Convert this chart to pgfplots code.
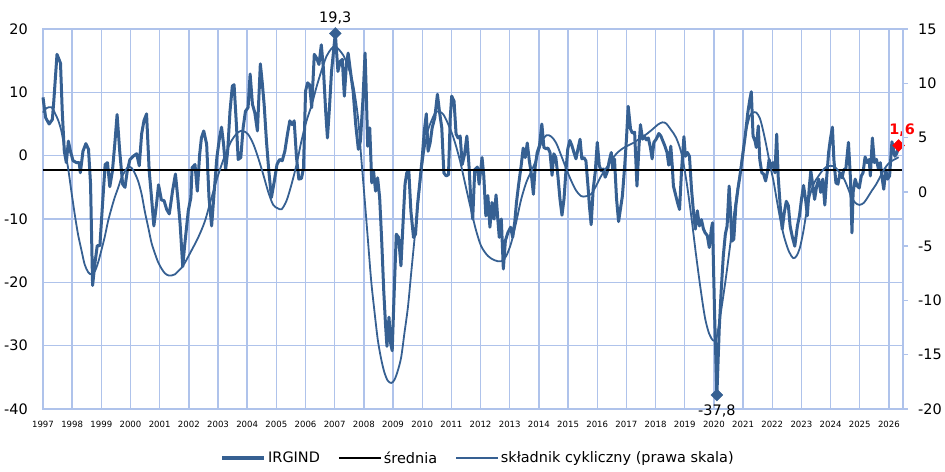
\documentclass[border=0pt]{standalone}
\usepackage{pgfplots}
\pgfplotsset{compat=1.18}
\usepackage{fontspec}
\setmainfont{DejaVu Sans}
\definecolor{irg}{RGB}{54,96,146}
\definecolor{gridc}{RGB}{175,195,235}
\begin{document}
\begin{tikzpicture}
\useasboundingbox (-43bp,-63bp) rectangle (902bp,409bp);
\begin{axis}[
  scale only axis, width=860bp, height=380bp,
  xmin=1997, xmax=2026.48, ymin=-40, ymax=20,
  clip=false,
  axis line style={draw=gridc, line width=1.4bp},
  xtick={1997,...,2026}, ytick={-40,-30,...,20},
  xmajorgrids=true, ymajorgrids=true,
  major grid style={draw=gridc, line width=1.4bp},
  major tick length=0bp,
  /pgf/number format/1000 sep={},
  /pgf/number format/assume math mode=true,
  xticklabel style={font=\fontsize{8.6}{9}\selectfont, anchor=north, inner sep=0pt, yshift=-12bp},
  yticklabel style={font=\fontsize{14.5}{15}\selectfont, anchor=east, inner sep=0pt, xshift=-15bp},
]
\addplot[gridc, line width=1.4bp, mark=none, forget plot] coordinates {(1997,20) (2026.48,20)};
\addplot[gridc, line width=1.4bp, mark=none, forget plot] coordinates {(1997,10) (2026.48,10)};
\addplot[gridc, line width=1.4bp, mark=none, forget plot] coordinates {(1997,0) (2026.48,0)};
\addplot[gridc, line width=1.4bp, mark=none, forget plot] coordinates {(1997,-10) (2026.48,-10)};
\addplot[gridc, line width=1.4bp, mark=none, forget plot] coordinates {(1997,-20) (2026.48,-20)};
\addplot[gridc, line width=1.4bp, mark=none, forget plot] coordinates {(1997,-30) (2026.48,-30)};
\addplot[gridc, line width=1.4bp, mark=none, forget plot] coordinates {(1997,-40) (2026.48,-40)};
\addplot[gridc, line width=1.4bp, mark=none, forget plot] coordinates {(2026.48,-40) (2026.48,20)};
\addplot[irg, line width=3bp, line join=round, mark=none] coordinates {
(1997.00,9.2)(1997.09,6.0)(1997.21,5.0)(1997.32,5.7)(1997.37,8.6)(1997.48,16.0)(1997.60,14.6)(1997.66,7.0)(1997.73,0.7)(1997.80,-1.1)(1997.87,2.3)(1997.94,0.7)(1998.03,-0.8)(1998.15,-1.1)(1998.24,-1.1)(1998.28,-2.7)(1998.37,0.7)(1998.47,1.9)(1998.56,1.0)(1998.63,-4.5)(1998.70,-20.5)(1998.78,-17.0)(1998.86,-14.2)(1998.95,-14.2)(1999.04,-7.7)(1999.13,-1.4)(1999.21,-1.1)(1999.29,-4.9)(1999.38,-2.4)(1999.46,1.8)(1999.54,6.5)(1999.63,0.7)(1999.73,-4.5)(1999.81,-5.0)(1999.89,-2.4)(1999.98,-0.6)(2000.09,-0.1)(2000.21,0.3)(2000.30,-1.6)(2000.38,3.4)(2000.46,5.5)(2000.55,6.6)(2000.64,-2.4)(2000.72,-6.6)(2000.80,-11.1)(2000.89,-7.7)(2000.96,-4.6)(2001.06,-7.0)(2001.15,-7.1)(2001.24,-8.5)(2001.33,-9.2)(2001.44,-5.6)(2001.54,-2.9)(2001.63,-7.1)(2001.70,-10.8)(2001.79,-17.5)(2001.86,-14.0)(2001.98,-8.7)(2002.07,-6.6)(2002.11,-1.9)(2002.21,-1.4)(2002.29,-5.6)(2002.37,0.2)(2002.43,2.8)(2002.51,3.9)(2002.61,1.8)(2002.69,-6.6)(2002.78,-11.1)(2002.87,-5.6)(2002.96,-0.3)(2003.05,2.8)(2003.12,4.5)(2003.19,1.8)(2003.26,-2.2)(2003.33,0.7)(2003.41,7.0)(2003.49,11.0)(2003.55,11.2)(2003.63,4.9)(2003.69,-0.6)(2003.78,-0.3)(2003.86,4.4)(2003.94,7.0)(2004.03,7.6)(2004.10,12.9)(2004.18,8.1)(2004.26,6.8)(2004.35,3.9)(2004.45,14.5)(2004.51,11.8)(2004.58,8.1)(2004.66,2.3)(2004.74,-2.4)(2004.83,-6.6)(2004.93,-4.0)(2005.02,-1.4)(2005.11,-0.6)(2005.20,-0.8)(2005.29,0.7)(2005.38,3.4)(2005.46,5.5)(2005.54,4.9)(2005.61,5.5)(2005.69,-0.3)(2005.77,-3.7)(2005.86,-3.6)(2005.93,-1.9)(2006.00,10.2)(2006.07,11.5)(2006.14,11.2)(2006.21,7.6)(2006.30,16.0)(2006.38,15.4)(2006.46,14.4)(2006.54,17.5)(2006.61,13.9)(2006.69,7.0)(2006.75,2.8)(2006.82,7.6)(2006.89,13.3)(2007.02,19.3)(2007.11,13.3)(2007.19,14.9)(2007.26,15.2)(2007.33,9.4)(2007.40,14.4)(2007.46,16.2)(2007.54,13.3)(2007.63,10.2)(2007.72,4.9)(2007.81,1.0)(2007.88,2.3)(2007.97,9.1)(2008.04,16.2)(2008.08,10.2)(2008.13,1.5)(2008.20,4.4)(2008.27,-4.3)(2008.33,-2.4)(2008.40,-5.6)(2008.47,-3.5)(2008.54,-6.6)(2008.61,-13.4)(2008.68,-21.3)(2008.74,-26.6)(2008.79,-30.1)(2008.86,-25.5)(2008.92,-29.7)(2008.97,-30.8)(2009.04,-21.3)(2009.11,-12.4)(2009.19,-12.9)(2009.27,-17.4)(2009.34,-10.8)(2009.41,-4.5)(2009.47,-2.7)(2009.54,-2.4)(2009.61,-8.7)(2009.70,-12.9)(2009.77,-12.4)(2009.84,-7.7)(2009.91,-4.5)(2010.00,-0.3)(2010.07,3.9)(2010.14,6.6)(2010.20,0.7)(2010.27,2.0)(2010.34,4.4)(2010.43,6.0)(2010.52,9.7)(2010.59,7.0)(2010.67,4.4)(2010.74,-2.7)(2010.82,-3.2)(2010.90,-3.0)(2010.96,6.0)(2011.01,9.4)(2011.09,8.6)(2011.16,3.4)(2011.23,2.8)(2011.30,3.1)(2011.37,-1.4)(2011.45,0.2)(2011.53,3.1)(2011.60,-1.4)(2011.66,-6.6)(2011.73,-10.0)(2011.80,-2.2)(2011.89,-1.8)(2011.95,-4.5)(2012.05,-0.3)(2012.11,-3.2)(2012.18,-9.5)(2012.25,-6.3)(2012.32,-11.3)(2012.39,-7.4)(2012.46,-10.0)(2012.53,-6.2)(2012.59,-10.0)(2012.64,-12.9)(2012.71,-10.0)(2012.78,-17.9)(2012.85,-13.4)(2012.94,-12.1)(2013.03,-11.3)(2013.10,-12.9)(2013.17,-10.5)(2013.23,-7.4)(2013.30,-4.7)(2013.39,-1.6)(2013.46,1.2)(2013.53,-0.3)(2013.60,2.0)(2013.67,-0.8)(2013.74,-2.9)(2013.81,-6.1)(2013.87,-1.8)(2013.94,0.5)(2014.02,1.6)(2014.10,5.0)(2014.17,1.3)(2014.24,1.1)(2014.31,1.2)(2014.38,0.5)(2014.45,-3.1)(2014.51,0.3)(2014.58,-0.3)(2014.65,-3.2)(2014.72,-6.8)(2014.79,-9.4)(2014.86,-6.8)(2014.93,-2.1)(2014.99,1.1)(2015.06,2.4)(2015.13,1.6)(2015.20,0.5)(2015.27,-0.5)(2015.34,1.1)(2015.41,2.6)(2015.47,-0.5)(2015.54,-0.3)(2015.61,-0.8)(2015.68,-4.7)(2015.73,-7.9)(2015.79,-10.9)(2015.86,-5.3)(2015.93,-2.6)(2016.00,2.1)(2016.07,-1.6)(2016.14,-2.4)(2016.21,-2.1)(2016.27,-3.4)(2016.34,-2.6)(2016.41,-0.8)(2016.48,0.5)(2016.53,-2.1)(2016.59,-0.5)(2016.66,-6.8)(2016.73,-10.4)(2016.86,-6.4)(2016.94,-1.6)(2017.00,2.6)(2017.06,7.8)(2017.14,4.2)(2017.20,3.6)(2017.28,3.7)(2017.36,-4.8)(2017.43,1.5)(2017.48,4.9)(2017.55,2.6)(2017.61,3.1)(2017.68,2.5)(2017.75,2.8)(2017.82,1.3)(2017.88,-0.5)(2017.94,2.1)(2018.02,2.6)(2018.11,3.5)(2018.18,3.1)(2018.25,2.3)(2018.32,1.5)(2018.39,0.5)(2018.45,-1.5)(2018.52,1.5)(2018.57,-1.6)(2018.61,-4.8)(2018.68,-6.1)(2018.75,-7.4)(2018.82,-8.5)(2018.89,-2.2)(2018.97,3.0)(2019.02,-0.1)(2019.09,0.5)(2019.16,-0.1)(2019.23,-5.3)(2019.30,-9.0)(2019.36,-11.6)(2019.43,-8.7)(2019.50,-11.1)(2019.57,-10.1)(2019.64,-11.6)(2019.70,-12.2)(2019.77,-12.6)(2019.84,-14.5)(2019.91,-11.6)(2019.95,-10.6)(2020.02,-24.8)(2020.10,-37.8)(2020.18,-27.4)(2020.25,-21.1)(2020.32,-15.8)(2020.39,-12.4)(2020.45,-11.1)(2020.52,-4.8)(2020.57,-9.0)(2020.61,-13.5)(2020.68,-13.2)(2020.75,-7.9)(2020.82,-5.3)(2020.89,-3.2)(2020.98,-0.1)(2021.07,3.1)(2021.16,6.8)(2021.23,8.9)(2021.28,10.1)(2021.34,3.1)(2021.41,2.3)(2021.45,1.3)(2021.52,4.7)(2021.57,-0.6)(2021.64,-2.7)(2021.70,-2.9)(2021.77,-4.0)(2021.84,-2.4)(2021.89,-0.6)(2021.95,-1.9)(2022.02,-1.1)(2022.09,-2.7)(2022.15,3.4)(2022.20,-3.2)(2022.27,-7.9)(2022.34,-11.6)(2022.41,-9.0)(2022.48,-7.2)(2022.55,-7.9)(2022.61,-11.1)(2022.68,-12.7)(2022.77,-14.3)(2022.86,-11.1)(2022.93,-9.5)(2023.00,-6.9)(2023.07,-4.7)(2023.14,-6.9)(2023.20,-9.5)(2023.27,-4.8)(2023.32,-2.4)(2023.39,-4.8)(2023.45,-6.9)(2023.52,-4.8)(2023.59,-3.7)(2023.66,-5.8)(2023.73,-3.7)(2023.80,-7.8)(2023.86,-3.7)(2023.93,0.5)(2023.99,2.6)(2024.06,4.5)(2024.11,-0.6)(2024.18,-4.3)(2024.25,-4.5)(2024.32,-2.7)(2024.39,-3.5)(2024.45,-2.2)(2024.52,-2.1)(2024.61,2.1)(2024.68,-3.7)(2024.73,-12.2)(2024.77,-5.8)(2024.84,-3.7)(2024.91,-4.8)(2024.98,-5.1)(2025.05,-3.2)(2025.11,-2.7)(2025.18,-0.2)(2025.25,-1.1)(2025.32,-0.6)(2025.36,-3.2)(2025.43,2.8)(2025.50,-1.1)(2025.57,-0.6)(2025.64,-2.2)(2025.70,-1.1)(2025.77,-3.7)(2025.82,-5.3)(2025.89,-2.2)(2025.95,-3.7)(2026.02,-3.2)(2026.10,2.2)(2026.20,-0.1)(2026.27,0.4)(2026.33,1.6)
};
\addplot[black, line width=2bp, mark=none] coordinates {(1997,-2.2) (2026.48,-2.2)};
\addplot[irg, only marks, mark=square*, mark size=4.2bp, mark options={rotate=45}] coordinates {(2007.02,19.3) (2020.10,-37.8)};
\addplot[red, only marks, mark=square*, mark size=4.2bp, mark options={rotate=45}] coordinates {(2026.33,1.6)};
\node[anchor=base, inner sep=0pt, yshift=11bp, font=\fontsize{14.5}{15}\selectfont] at (axis cs:2007.02,19.3) {19,3};
\node[anchor=north, inner sep=0pt, yshift=-10bp, font=\fontsize{14.5}{15}\selectfont] at (axis cs:2020.10,-37.8) {-37,8};
\node[anchor=base, inner sep=0pt, yshift=11bp, xshift=3.5bp, text=red, font=\fontsize{14.5}{15}\selectfont\bfseries] at (axis cs:2026.33,1.6) {1,6};
\end{axis}
\begin{axis}[
  scale only axis, width=860bp, height=380bp,
  xmin=1997, xmax=2026.48, ymin=-20, ymax=15,
  clip=false,
  axis x line=none,
  axis y line*=right,
  y axis line style={draw=gridc, line width=1.4bp, -},
  ytick={-20,-15,...,15},
  ytick style={draw=gridc, line width=1.4bp},
  tick align=outside, major tick length=5bp,
  /pgf/number format/assume math mode=true,
  yticklabel style={font=\fontsize{14.5}{15}\selectfont, anchor=west, inner sep=0pt, xshift=10bp},
  legend style={at={(0.506,-0.129)}, anchor=center, draw=none, fill=none,
    font=\fontsize{14.5}{15}\selectfont, legend columns=3,
    /tikz/every even column/.append style={column sep=16bp}},
  legend image code/.code={\draw[#1] (0bp,0bp) -- (42bp,0bp);},
]
\addlegendimage{irg, line width=3.5bp}
\addlegendentry{IRGIND}
\addlegendimage{black, line width=2bp}
\addlegendentry{średnia}
\addplot[irg, line width=1.8bp, smooth, tension=0.5, mark=none] coordinates {
(1997.00,7.3)(1997.11,7.7)(1997.29,7.8)(1997.40,7.3)(1997.52,6.6)(1997.63,5.6)(1997.74,4.0)(1997.86,2.2)(1997.97,0.1)(1998.09,-2.1)(1998.20,-3.9)(1998.32,-5.4)(1998.43,-6.7)(1998.55,-7.4)(1998.66,-7.6)(1998.78,-7.3)(1998.89,-6.5)(1999.00,-5.4)(1999.12,-4.1)(1999.23,-2.7)(1999.35,-1.5)(1999.46,-0.5)(1999.58,0.4)(1999.69,1.3)(1999.81,1.9)(1999.92,2.3)(2000.04,2.2)(2000.15,1.7)(2000.26,1.0)(2000.38,-0.2)(2000.49,-1.8)(2000.61,-3.3)(2000.72,-4.7)(2000.84,-5.7)(2000.95,-6.5)(2001.07,-7.1)(2001.18,-7.5)(2001.30,-7.7)(2001.41,-7.7)(2001.52,-7.6)(2001.64,-7.3)(2001.75,-7.0)(2001.87,-6.5)(2002.09,-5.4)(2002.32,-4.2)(2002.55,-2.7)(2002.78,-0.5)(2003.01,1.6)(2003.23,3.3)(2003.46,4.7)(2003.69,5.5)(2003.86,5.6)(2004.03,5.3)(2004.21,4.4)(2004.38,3.1)(2004.55,1.6)(2004.72,0.0)(2004.89,-1.2)(2005.04,-1.5)(2005.18,-1.6)(2005.35,-0.8)(2005.52,0.7)(2005.69,2.5)(2005.86,4.7)(2006.03,6.5)(2006.21,8.0)(2006.38,9.7)(2006.55,11.2)(2006.72,12.5)(2006.89,13.2)(2007.00,13.4)(2007.11,13.2)(2007.29,12.6)(2007.46,11.5)(2007.63,9.9)(2007.80,6.8)(2007.91,3.1)(2008.03,-0.8)(2008.14,-4.5)(2008.25,-8.2)(2008.37,-11.2)(2008.48,-13.7)(2008.60,-15.5)(2008.71,-16.7)(2008.82,-17.4)(2008.94,-17.6)(2009.05,-17.3)(2009.17,-16.4)(2009.28,-15.2)(2009.39,-13.0)(2009.51,-10.6)(2009.62,-7.5)(2009.74,-4.2)(2009.85,-1.2)(2009.96,1.6)(2010.08,4.0)(2010.19,5.6)(2010.31,6.5)(2010.45,7.3)(2010.59,7.4)(2010.73,7.1)(2010.88,6.3)(2011.03,5.3)(2011.16,4.2)(2011.30,2.8)(2011.45,1.0)(2011.60,-0.8)(2011.73,-2.3)(2011.85,-3.6)(2012.02,-5.0)(2012.25,-5.9)(2012.48,-6.3)(2012.71,-6.4)(2012.88,-5.9)(2013.05,-4.7)(2013.22,-2.8)(2013.39,-0.7)(2013.57,0.9)(2013.74,1.9)(2013.91,3.0)(2014.08,4.5)(2014.25,5.2)(2014.42,5.1)(2014.59,4.5)(2014.77,3.3)(2014.94,2.1)(2015.11,1.0)(2015.28,0.1)(2015.45,-0.4)(2015.62,-0.4)(2015.79,-0.2)(2015.97,0.6)(2016.14,1.5)(2016.31,2.2)(2016.48,2.9)(2016.65,3.5)(2016.82,3.9)(2017.00,4.2)(2017.23,4.5)(2017.45,4.9)(2017.68,5.3)(2017.91,5.8)(2018.08,6.2)(2018.23,6.4)(2018.36,6.3)(2018.53,5.7)(2018.70,5.0)(2018.88,3.6)(2019.05,1.1)(2019.22,-2.2)(2019.39,-5.9)(2019.56,-9.3)(2019.70,-11.7)(2019.84,-13.1)(2019.98,-13.7)(2020.09,-13.4)(2020.20,-11.7)(2020.32,-9.6)(2020.43,-7.5)(2020.55,-5.0)(2020.66,-2.6)(2020.77,-0.4)(2020.89,1.7)(2021.00,3.9)(2021.11,5.7)(2021.23,7.0)(2021.34,7.3)(2021.45,7.3)(2021.57,6.8)(2021.68,5.7)(2021.80,4.2)(2021.92,2.5)(2022.04,1.0)(2022.15,-0.7)(2022.27,-2.5)(2022.40,-4.1)(2022.57,-5.5)(2022.72,-6.1)(2022.83,-5.9)(2022.94,-5.2)(2023.06,-3.7)(2023.17,-1.9)(2023.28,-0.4)(2023.43,0.8)(2023.57,1.4)(2023.70,1.9)(2023.85,2.3)(2024.00,2.4)(2024.14,2.3)(2024.27,1.9)(2024.42,1.4)(2024.57,0.5)(2024.70,-0.4)(2024.84,-1.0)(2024.99,-1.2)(2025.14,-1.0)(2025.27,-0.5)(2025.41,0.1)(2025.56,0.7)(2025.70,1.4)(2025.84,2.1)(2025.98,2.6)(2026.13,2.9)(2026.27,3.1)(2026.33,3.2)
};
\addlegendentry{składnik cykliczny (prawa skala)}
\end{axis}
\end{tikzpicture}
\end{document}
